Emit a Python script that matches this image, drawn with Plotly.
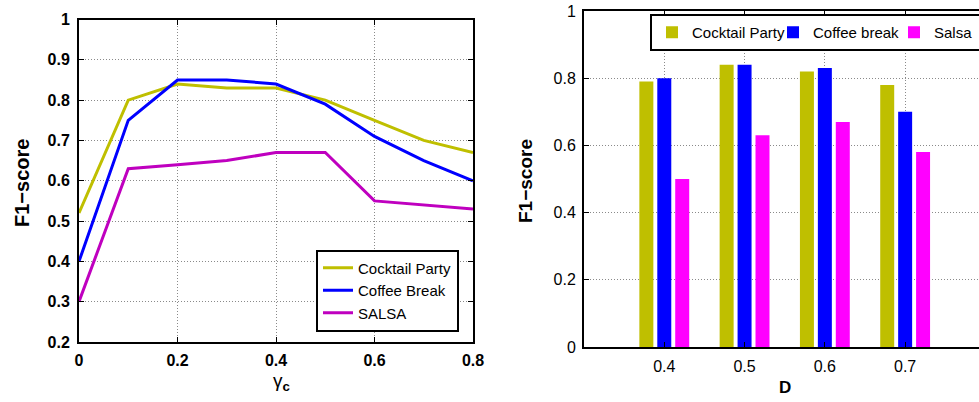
import plotly.graph_objects as go

# ---- data: left panel (line chart) ----
gamma_c = [0, 0.1, 0.2, 0.3, 0.4, 0.5, 0.6, 0.7, 0.8]
line_cocktail = [0.52, 0.80, 0.84, 0.83, 0.83, 0.80, 0.75, 0.70, 0.67]
line_coffee = [0.40, 0.75, 0.85, 0.85, 0.84, 0.79, 0.71, 0.65, 0.60]
line_salsa = [0.30, 0.63, 0.64, 0.65, 0.67, 0.67, 0.55, 0.54, 0.53]
line_names = ["Cocktail Party", "Coffee Break", "SALSA"]

# ---- data: right panel (bar chart) ----
D_values = [0.4, 0.5, 0.6, 0.7]
bar_cocktail = [0.79, 0.84, 0.82, 0.78]
bar_coffee = [0.80, 0.84, 0.83, 0.70]
bar_salsa = [0.50, 0.63, 0.67, 0.58]
bar_names = ["Cocktail Party", "Coffee break", "Salsa"]

FONT = "Liberation Sans, Arial, Helvetica, sans-serif"
OLIVE = "#BFBF00"
BLUE = "#0000FF"
PURPLE = "#BF00BF"
MAGENTA = "#FF00FF"
GRID = "#8a8a8a"

fig = go.Figure()

for y, name, col in zip([line_cocktail, line_coffee, line_salsa], line_names, [OLIVE, BLUE, PURPLE]):
    fig.add_trace(go.Scatter(x=gamma_c, y=y, name=name, mode="lines",
                             line=dict(color=col, width=3),
                             xaxis="x", yaxis="y", legend="legend"))

for y, name, col in zip([bar_cocktail, bar_coffee, bar_salsa], bar_names, [OLIVE, BLUE, MAGENTA]):
    fig.add_trace(go.Bar(x=D_values, y=y, name=name, marker=dict(color=col, line=dict(width=0)),
                         xaxis="x2", yaxis="y2", legend="legend2"))

W, H = 979, 402
def px_x(p):
    return p / W
def px_y(p):
    return (H - p) / H

axis_common = dict(showline=True, linecolor="black", linewidth=2, ticks="inside", ticklen=5,
                   tickcolor="black", tickwidth=1, showgrid=True, gridcolor=GRID, griddash="1px,2px",
                   gridwidth=1, zeroline=False, automargin=False)

def ann(text, x, y, size, angle=0):
    return dict(text=text, textangle=angle, x=px_x(x), y=px_y(y), xref="paper", yref="paper",
                xanchor="center", yanchor="middle", showarrow=False,
                font=dict(family=FONT, size=size, color="black"))

fig.update_layout(
    width=W, height=H,
    margin=dict(l=0, r=0, t=0, b=0, autoexpand=False),
    paper_bgcolor="white", plot_bgcolor="white",
    barmode="group", bargap=0.33, bargroupgap=0.22,
    font=dict(family=FONT, color="black"),
    xaxis=dict(domain=[px_x(79), px_x(473)], range=[0, 0.8], tickvals=[0, 0.2, 0.4, 0.6, 0.8],
               mirror="ticks", anchor="y", ticklabelstandoff=3,
               tickfont=dict(family=FONT, size=16, weight="bold"), **axis_common),
    yaxis=dict(domain=[px_y(342), px_y(19.5)], range=[0.2, 1], tick0=0.2, dtick=0.1,
               mirror="ticks", anchor="x", ticklabelstandoff=4,
               tickfont=dict(family=FONT, size=16, weight="bold"), **axis_common),
    xaxis2=dict(domain=[px_x(584), 1.0], range=[0.3, 0.792], tickvals=D_values,
                mirror="ticks", anchor="y2", ticklabelstandoff=4,
                tickfont=dict(family=FONT, size=16), **axis_common),
    yaxis2=dict(domain=[px_y(347), px_y(11)], range=[0, 1], tick0=0, dtick=0.2,
                mirror=False, anchor="x2", ticklabelstandoff=3,
                tickfont=dict(family=FONT, size=16), **axis_common),
    legend=dict(x=px_x(459), xanchor="right", y=px_y(290.5), yanchor="middle",
                bordercolor="black", borderwidth=2, bgcolor="white",
                font=dict(family=FONT, size=15), tracegroupgap=0),
    legend2=dict(orientation="h", x=px_x(650), xanchor="left", y=px_y(14), yanchor="top",
                 bordercolor="black", borderwidth=2, bgcolor="white", itemwidth=30,
                 entrywidth=76, entrywidthmode="pixels",
                 font=dict(family=FONT, size=15)),
    annotations=[
        ann("<b>F1\u2212score</b>", 22, 183, 20, -90),
        ann("γ<sub><b>c</b></sub>", 281, 382, 19),
        ann("<b>F1\u2212score</b>", 525, 181, 19, -90),
        ann("<b>D</b>", 785, 387, 17),
    ],
)

fig.write_html("out.html", config={"displayModeBar": False},
               post_script="document.body.style.margin='0px';")
